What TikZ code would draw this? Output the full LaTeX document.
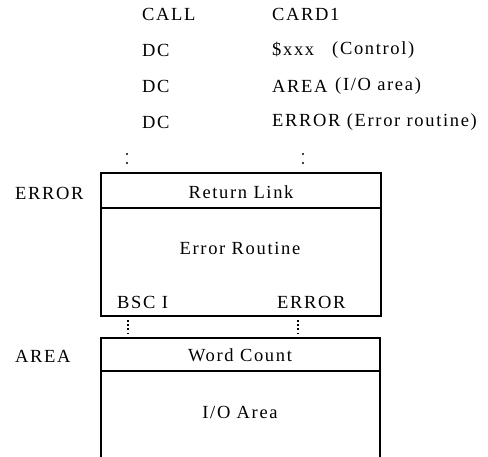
\documentclass[tikz,border=0pt]{standalone}
\usepackage{fontspec}
\setmainfont[LetterSpace=9]{Liberation Serif}
\begin{document}
\begin{tikzpicture}[x=1pt,y=-1pt,
  txt/.style={inner sep=0pt,font=\fontsize{18.5}{21}\selectfont},
  boxline/.style={line width=1.5pt},
  dotline/.style={line width=1.8pt,dash pattern=on 1.8pt off 2.4pt},
  dotmark/.style={circle,fill=black,inner sep=0pt,minimum size=2.4pt}]
\useasboundingbox (0,0) rectangle (488,456);
% listing
\node[txt,anchor=west] (call) at (142,14) {CALL};
\node[txt,anchor=west] (card) at (272,14) {CARD1};
\node[txt,anchor=west] (dca) at (142,50) {DC};
\node[txt,anchor=west] (xxx) at (272,50) {\$xxx};
\node[txt,anchor=west] (ctl) at (332,50) {(Control)};
\node[txt,anchor=west] (dcb) at (142,86) {DC};
\node[txt,anchor=west] (area) at (272,86) {AREA};
\node[txt,anchor=west] (ioa) at (335,86) {(I/O area)};
\node[txt,anchor=west] (dcc) at (142,122) {DC};
\node[txt,anchor=west] (err) at (272,122) {ERROR (Error routine)};
\node[dotmark] (d1) at (127,154) {};
\node[dotmark] (d2) at (127,163) {};
\node[dotmark] (d3) at (303,154) {};
\node[dotmark] (d4) at (303,163) {};
% box 1
\draw[boxline] (101,173) rectangle (381,316);
\draw[boxline] (101,208) -- (381,208);
\node[txt,anchor=west] (errlbl) at (15,193) {ERROR};
\node[txt] (ret) at (241,192) {Return Link};
\node[txt] (erout) at (240,248) {Error Routine};
\node[txt,anchor=west] (bsc) at (117,302) {BSC I};
\node[txt,anchor=west] (err2) at (277,302) {ERROR};
% connectors
\coordinate (c1a) at (128,320);
\coordinate (c1b) at (128,335);
\coordinate (c2a) at (298,320);
\coordinate (c2b) at (298,335);
\draw[dotline] (c1a) -- (c1b);
\draw[dotline] (c2a) -- (c2b);
% box 2
\draw[boxline] (101,457) -- (101,338) -- (380,338) -- (380,457);
\draw[boxline] (101,371) -- (380,371);
\node[txt,anchor=west] (arealbl) at (15,356) {AREA};
\node[txt] (wc) at (240,355) {Word Count};
\node[txt] (io) at (240,412) {I/O Area};
\end{tikzpicture}
\end{document}
